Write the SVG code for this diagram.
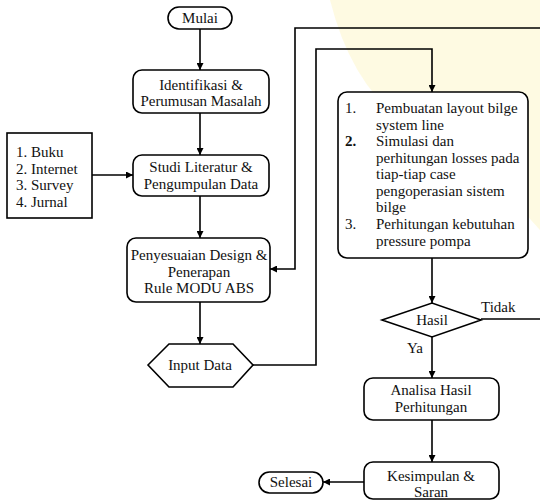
<svg xmlns="http://www.w3.org/2000/svg" width="540" height="501" viewBox="0 0 540 501">
<defs>
<marker id="ah" viewBox="0 0 10 10" refX="10" refY="5" markerWidth="8" markerHeight="7" markerUnits="userSpaceOnUse" orient="auto">
<path d="M0,0 L10,5 L0,10 z" fill="#000"/>
</marker>
</defs>
<style>
.box{fill:#fff;stroke:#000;stroke-width:1.6}
.t{font-family:"Liberation Serif","Times New Roman",serif;font-size:15px;fill:#111}
.c{text-anchor:middle}
.ln{fill:none;stroke:#000;stroke-width:1.6}
.ar{fill:none;stroke:#000;stroke-width:1.6;marker-end:url(#ah)}
</style>
<rect width="540" height="501" fill="#fff"/>
<path d="M330,0 L540,0 L540,230 Q470,150 400,120 Q350,80 330,0 z" fill="#fdf8d6" opacity="0.7"/>

<g id="connectors">
<line class="ar" x1="200" y1="29" x2="200" y2="70"/>
<line class="ar" x1="200" y1="113" x2="200" y2="155"/>
<line class="ar" x1="200" y1="196" x2="200" y2="238"/>
<line class="ar" x1="200" y1="302" x2="200" y2="344"/>
<line class="ar" x1="92" y1="175" x2="133" y2="175"/>
<polyline class="ar" points="540,28 295,28 295,269 270,269"/>
<polyline class="ar" points="253,365 316,365 316,49 432,49 432,92"/>
<line class="ar" x1="432" y1="258" x2="432" y2="303"/>
<line class="ln" x1="481" y1="319" x2="540" y2="319"/>
<line class="ar" x1="432" y1="337" x2="432" y2="378"/>
<line class="ar" x1="432" y1="420" x2="432" y2="462"/>
<line class="ar" x1="364" y1="482" x2="323" y2="482"/>
<text class="t" x="481" y="312">Tidak</text>
<text class="t" x="407" y="353">Ya</text>
</g>

<g id="mulai">
<rect class="box" x="168" y="7" width="64" height="22" rx="11"/>
<text class="t c" x="200" y="23">Mulai</text>
</g>

<g id="identifikasi">
<rect class="box" x="133" y="70" width="136" height="43" rx="9"/>
<text class="t c" x="201" y="90">Identifikasi &amp;</text>
<text class="t c" x="201" y="106">Perumusan Masalah</text>
</g>

<g id="sumber">
<rect class="box" x="7" y="133" width="85" height="85"/>
<text class="t" x="16" y="157">1. Buku</text>
<text class="t" x="16" y="173.5">2. Internet</text>
<text class="t" x="16" y="190">3. Survey</text>
<text class="t" x="16" y="206.5">4. Jurnal</text>
</g>

<g id="studi">
<rect class="box" x="133" y="155" width="136" height="41" rx="9"/>
<text class="t c" x="201" y="172">Studi Literatur &amp;</text>
<text class="t c" x="201" y="189">Pengumpulan Data</text>
</g>

<g id="penyesuaian">
<rect class="box" x="127" y="238" width="143" height="64" rx="9"/>
<text class="t c" x="199" y="260">Penyesuaian Design &amp;</text>
<text class="t c" x="199" y="277">Penerapan</text>
<text class="t c" x="199" y="293">Rule MODU ABS</text>
</g>

<g id="input">
<polygon class="box" points="148,365 169,344 233,344 253,365 233,387 169,387"/>
<text class="t c" x="200" y="370">Input Data</text>
</g>

<g id="proses">
<rect class="box" x="338" y="92" width="190" height="166" rx="9"/>
<text class="t" x="345" y="113">1.</text>
<text class="t" x="376" y="113">Pembuatan layout bilge</text>
<text class="t" x="376" y="129.5">system line</text>
<text class="t" x="345" y="146" font-weight="bold">2.</text>
<text class="t" x="376" y="146">Simulasi dan</text>
<text class="t" x="376" y="162.5">perhitungan losses pada</text>
<text class="t" x="376" y="179">tiap-tiap case</text>
<text class="t" x="376" y="195.5">pengoperasian sistem</text>
<text class="t" x="376" y="212">bilge</text>
<text class="t" x="345" y="229">3.</text>
<text class="t" x="376" y="229">Perhitungan kebutuhan</text>
<text class="t" x="376" y="245.5">pressure pompa</text>
</g>

<g id="hasil">
<polygon class="box" points="382,320 432,303 481,320 432,337"/>
<text class="t c" x="432" y="325">Hasil</text>
</g>

<g id="analisa">
<rect class="box" x="364" y="378" width="135" height="42" rx="9"/>
<text class="t c" x="431" y="395">Analisa Hasil</text>
<text class="t c" x="431" y="412">Perhitungan</text>
</g>

<g id="kesimpulan">
<rect class="box" x="364" y="462" width="135" height="37" rx="9"/>
<text class="t c" x="431" y="481">Kesimpulan &amp;</text>
<text class="t c" x="431" y="497">Saran</text>
</g>

<g id="selesai">
<rect class="box" x="259" y="472" width="64" height="21" rx="10.5"/>
<text class="t c" x="291" y="487">Selesai</text>
</g>
</svg>
